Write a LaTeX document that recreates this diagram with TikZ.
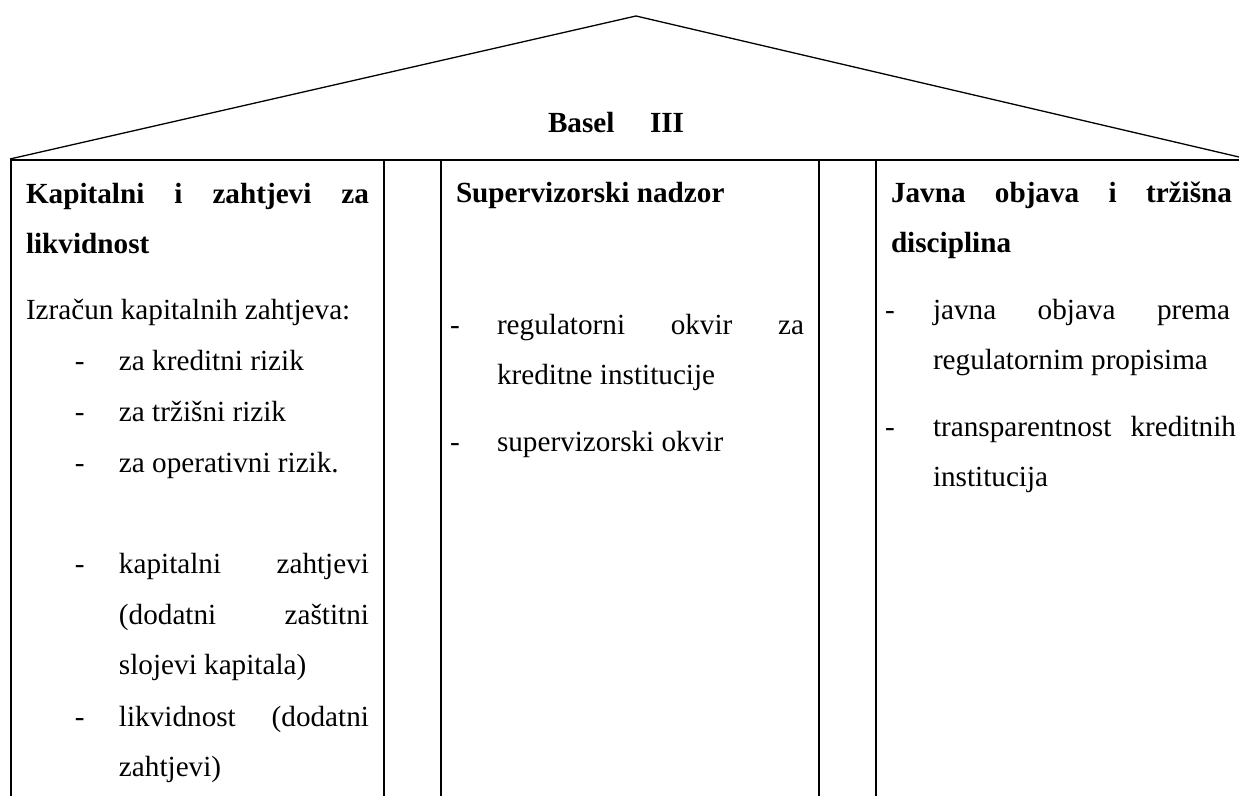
\documentclass[tikz,border=0pt]{standalone}
\usepackage{fontspec}
\setmainfont{Liberation Serif}
\tikzset{
  frame/.style={line width=1pt, black},
  roof/.style={line width=0.65pt, black},
  txt/.style={anchor=base west, inner sep=0pt, outer sep=0pt, font=\fontsize{14.6pt}{17pt}\selectfont},
  bld/.style={txt, font=\fontsize{14.6pt}{17pt}\selectfont\bfseries},
}
\begin{document}
\begin{tikzpicture}[x=0.5pt,y=-0.5pt]
\useasboundingbox (0,0) rectangle (1239,796);
% roof
\coordinate (rl) at (10,159);
\coordinate (ra) at (636,16);
\coordinate (rr) at (1239,157);
\draw[roof] (rl) -- (ra) -- (rr);
% frame
\coordinate (h0) at (10,160);
\coordinate (h1) at (1239,160);
\draw[frame] (h0) -- (h1);
\foreach \x/\n in {11/a,384/b,441/c,819/d,876/e}{
  \coordinate (t\n) at (\x,160);
  \coordinate (b\n) at (\x,797);
  \draw[frame] (t\n) -- (b\n);
}
% title
\node[bld] (basel) at (548,133) {Basel};
\node[bld] (three) at (650,133) {III};
% left column
\node[bld] (l1) at (26,204) {\hbox to 171.5pt{Kapitalni\hfill i\hfill zahtjevi\hfill za}};
\node[bld] (l2) at (26,254) {likvidnost};
\node[txt] (l3) at (26,320) {Izračun kapitalnih zahtjeva:};
\node[txt] (d1) at (75,371) {-};
\node[txt] (l4) at (119,371) {za kreditni rizik};
\node[txt] (d2) at (75,422) {-};
\node[txt] (l5) at (119,422) {za tržišni rizik};
\node[txt] (d3) at (75,473) {-};
\node[txt] (l6) at (119,473) {za operativni rizik.};
\node[txt] (d4) at (75,574) {-};
\node[txt] (l7) at (119,574) {\hbox to 125pt{kapitalni\hfill zahtjevi}};
\node[txt] (l8) at (119,625) {\hbox to 125pt{(dodatni\hfill zaštitni}};
\node[txt] (l9) at (119,675) {slojevi kapitala)};
\node[txt] (d5) at (75,727) {-};
\node[txt] (l10) at (119,727) {\hbox to 125pt{likvidnost\hfill (dodatni}};
\node[txt] (l11) at (119,777) {zahtjevi)};
% middle column
\node[bld] (m1) at (456,203) {Supervizorski nadzor};
\node[txt] (md1) at (450,335) {-};
\node[txt] (m2) at (497,335) {\hbox to 153.5pt{regulatorni\hfill okvir\hfill za}};
\node[txt] (m3) at (497,385) {kreditne institucije};
\node[txt] (md2) at (450,452) {-};
\node[txt] (m4) at (497,452) {supervizorski okvir};
% right column
\node[bld] (r1) at (891,203) {\hbox to 170.5pt{Javna\hfill objava\hfill i\hfill tržišna}};
\node[bld] (r2) at (891,253) {disciplina};
\node[txt] (rd1) at (885,320) {-};
\node[txt] (r3) at (933,320) {\hbox to 148.5pt{javna\hfill objava\hfill prema}};
\node[txt] (r4) at (933,370) {regulatornim propisima};
\node[txt] (rd2) at (885,437) {-};
\node[txt] (r5) at (933,437) {\hbox to 151.5pt{transparentnost\hfill kreditnih}};
\node[txt] (r6) at (933,487) {institucija};
\end{tikzpicture}
\end{document}
